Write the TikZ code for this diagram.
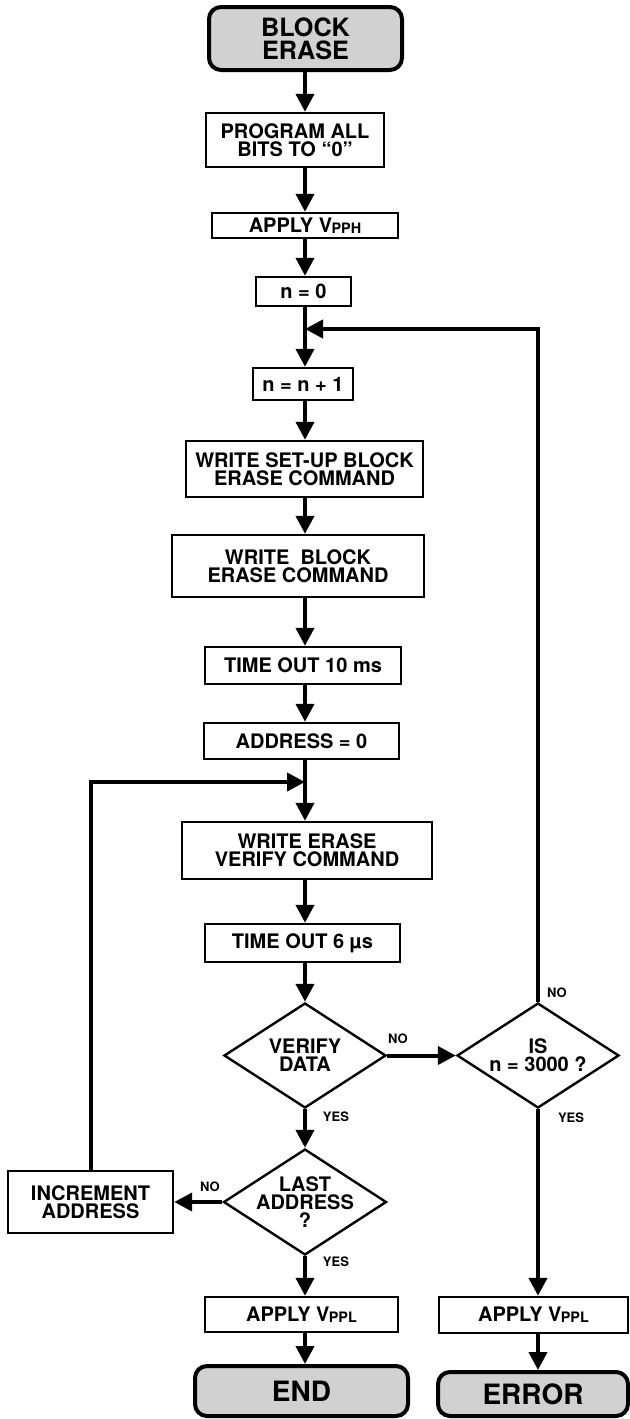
\documentclass[tikz,border=0pt]{standalone}
\usepackage{fontspec}
\setmainfont{TeX Gyre Heros}
\usetikzlibrary{arrows.meta,shapes.geometric}

\newcommand{\vsub}[1]{V\kern-0.3pt\raisebox{-0.4pt}{\fontsize{7.2}{7.2}\selectfont #1}}

\begin{document}
\begin{tikzpicture}[
  x=0.5pt, y=-0.5pt,
  font=\bfseries\fontsize{10}{9}\selectfont,
  bx/.style={draw, line width=1.2pt, align=center, inner sep=1pt},
  term/.style={bx, rounded corners=6pt, line width=2pt, fill=black!18,
               font=\bfseries\fontsize{12.6}{11.6}\selectfont},
  dec/.style={draw, line width=1.2pt, shape=diamond, aspect=1.54, inner sep=-1.5pt,
              align=center, minimum width=81pt, minimum height=52.5pt},
  arr/.style={-{Triangle[length=9pt,width=9pt]}, line width=2pt},
  lab/.style={font=\bfseries\fontsize{6.5}{6.5}\selectfont, inner sep=0pt}
]
\useasboundingbox (0,0) rectangle (630,1419);

\coordinate (col) at (305,0);
\coordinate (colr) at (538,0);
\coordinate (j1) at (305,329);
\coordinate (j2) at (305,782);

% main column
\node[term, minimum width=96.5pt, minimum height=31.5pt] (start) at (305.5,38.5) {BLOCK\\ERASE};
\node[bx, minimum width=89pt, minimum height=27pt] (prog) at (295,140) {PROGRAM ALL\\BITS TO ``0''};
\node[bx, minimum width=93pt, minimum height=12.5pt] (vpph) at (305,225.5) {APPLY \vsub{PPH}};
\node[bx, minimum width=47.5pt, minimum height=14.5pt] (n0) at (303.5,291.5) {n = 0};
\node[bx, minimum width=50pt, minimum height=16pt] (ninc) at (303,384) {n = n + 1};
\node[bx, minimum width=118.5pt, minimum height=28pt] (setup) at (304.5,469) {WRITE SET-UP BLOCK\\ERASE COMMAND};
\node[bx, minimum width=126pt, minimum height=31pt] (erase) at (298,566) {WRITE\ \ BLOCK\\ERASE COMMAND};
\node[bx, minimum width=98pt, minimum height=18.5pt] (t10) at (303,665.5) {TIME OUT 10 ms};
\node[bx, minimum width=97.5pt, minimum height=18pt] (addr0) at (301.5,741) {ADDRESS = 0};
\node[bx, minimum width=125pt, minimum height=28.5pt] (verify) at (307,850.5) {WRITE ERASE\\VERIFY COMMAND};
\node[bx, minimum width=97.5pt, minimum height=19pt] (t6) at (302.5,943) {TIME OUT 6 µs};
\node[dec] (vdata) at (305,1055.5) {VERIFY\\DATA};
\node[dec] (isn) at (538,1055.5) {IS\\n = 3000 ?};
\node[dec, minimum width=81.5pt, minimum height=53pt] (last) at (305,1202) {LAST\\ADDRESS\\?};
\node[bx, minimum width=82.5pt, minimum height=31pt] (incaddr) at (90.5,1202) {INCREMENT\\ADDRESS};
\node[bx, minimum width=96.5pt, minimum height=17.5pt] (vppl1) at (301.5,1314.5) {APPLY \vsub{PPL}};
\node[term, minimum width=106.5pt, minimum height=25pt, font=\bfseries\fontsize{14}{12}\selectfont] (endn) at (301.5,1391) {END};

% right column
\node[bx, minimum width=94.5pt, minimum height=18pt] (vppl2) at (533.5,1315) {APPLY \vsub{PPL}};
\node[term, minimum width=95pt, minimum height=22pt, font=\bfseries\fontsize{14}{12}\selectfont] (errn) at (533,1394) {ERROR};

\draw[arr] (start.south -| col) -- (prog.north -| col);
\draw[arr] (prog.south -| col) -- (vpph.north -| col);
\draw[arr] (vpph.south -| col) -- (n0.north -| col);
\draw[arr] (n0.south -| col) -- (ninc.north -| col);
\draw[arr] (ninc.south -| col) -- (setup.north -| col);
\draw[arr] (setup.south -| col) -- (erase.north -| col);
\draw[arr] (erase.south -| col) -- (t10.north -| col);
\draw[arr] (t10.south -| col) -- (addr0.north -| col);
\draw[arr] (addr0.south -| col) -- (verify.north -| col);
\draw[arr] (verify.south -| col) -- (t6.north -| col);
\draw[arr] (t6.south -| col) -- (vdata.north);
\draw[arr] (vdata.east) -- (isn.west);
\draw[arr] (vdata.south) -- (last.north);
\draw[arr] (last.west) -- (incaddr.east);
\draw[arr] (last.south) -- (vppl1.north -| col);
\draw[arr] (vppl1.south -| col) -- (endn.north -| col);
\draw[arr] (isn.south) -- (vppl2.north -| colr);
\draw[arr] (vppl2.south -| colr) -- (errn.north -| colr);

% loops back
\draw[arr] (incaddr.north) |- (j2);
\draw[arr] (isn.north) |- (j1);

\node[lab] (noa) at (398,1039) {NO};
\node[lab] (nob) at (557,993) {NO};
\node[lab] (yesa) at (336,1117) {YES};
\node[lab] (yesb) at (571,1118) {YES};
\node[lab] (noc) at (210,1187) {NO};
\node[lab] (yesc) at (336,1262) {YES};

\end{tikzpicture}
\end{document}
